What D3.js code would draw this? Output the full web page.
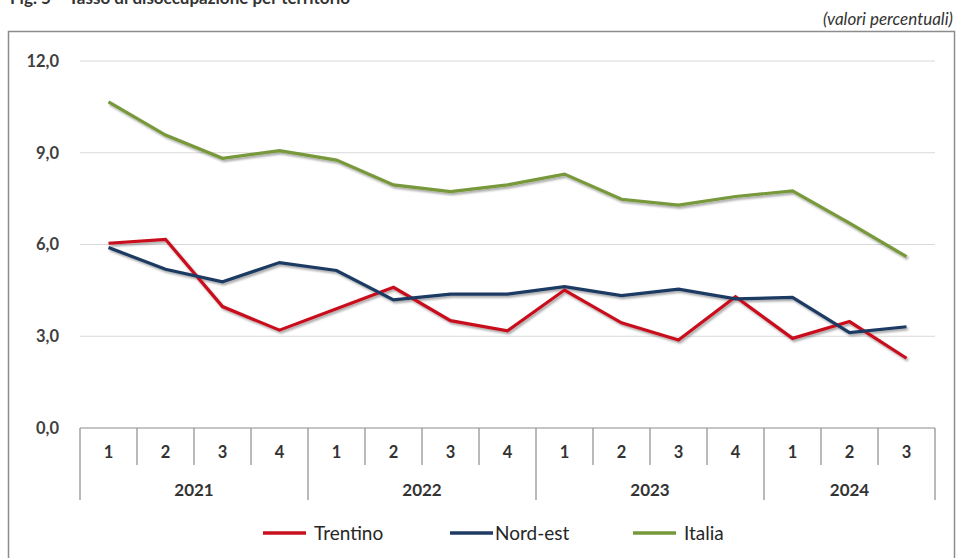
<!DOCTYPE html>
<html>
<head>
<meta charset="utf-8">
<script src="https://cdn.jsdelivr.net/npm/d3@7"></script>
<style>
  body { margin: 0; background: #fff; }
  svg { display: block; font-family: Lato, "Open Sans", sans-serif; }
</style>
</head>
<body>
<svg id="chart"></svg>
<script>
// Data
const quarters = ['1', '2', '3', '4', '1', '2', '3', '4', '1', '2', '3', '4', '1', '2', '3'];
const years = [
  { label: '2021', n: 4 },
  { label: '2022', n: 4 },
  { label: '2023', n: 4 },
  { label: '2024', n: 3 }
];
const trentino = [6.04, 6.17, 3.97, 3.2, 3.9, 4.6, 3.51, 3.18, 4.51, 3.44, 2.88, 4.29, 2.93, 3.48, 2.28];
const nordEst = [5.9, 5.19, 4.78, 5.41, 5.15, 4.19, 4.38, 4.38, 4.62, 4.33, 4.54, 4.22, 4.27, 3.12, 3.31];
const italia = [10.66, 9.58, 8.82, 9.07, 8.76, 7.95, 7.73, 7.95, 8.3, 7.48, 7.29, 7.57, 7.75, 6.7, 5.6];
const yTicks = [0, 3, 6, 9, 12];

const series = [
  { name: 'Trentino', values: trentino, color: '#c8101e' },
  { name: 'Nord-est', values: nordEst, color: '#1f3a63' },
  { name: 'Italia', values: italia, color: '#77983a' }
];

const width = 959, height = 558;
const margin = { top: 61, right: 24, bottom: 130, left: 80 };
const innerW = width - margin.left - margin.right;
const innerH = height - margin.top - margin.bottom;

const svg = d3.select('#chart').attr('width', width).attr('height', height);

// drop shadow like the Excel original
const defs = svg.append('defs');
defs.append('filter').attr('id', 'shadow')
  .attr('x', '-5%').attr('y', '-20%').attr('width', '110%').attr('height', '140%')
  .append('feDropShadow')
  .attr('dx', 1.5).attr('dy', 2).attr('stdDeviation', 1)
  .attr('flood-color', '#000').attr('flood-opacity', 0.35);

// title (cut off at the top of the crop, as in the source)
svg.append('text')
  .attr('x', 10).attr('y', 4)
  .attr('fill', '#333').attr('font-size', '17px').attr('font-weight', 'bold')
  .text('Fig. 5 \u2013 Tasso di disoccupazione per territorio');

svg.append('text')
  .attr('x', 953).attr('y', 25)
  .attr('text-anchor', 'end')
  .attr('fill', '#333').attr('font-size', '17px').attr('font-style', 'italic')
  .text('(valori percentuali)');

// outer frame
svg.append('rect')
  .attr('x', 8.5).attr('y', 31.5).attr('width', 946).attr('height', 540)
  .attr('fill', 'none').attr('stroke', '#8c8c8c').attr('stroke-width', 1.5);

const g = svg.append('g').attr('transform', `translate(${margin.left},${margin.top})`);

const x = d3.scaleBand().domain(d3.range(quarters.length)).range([0, innerW]);
const y = d3.scaleLinear().domain([0, 12]).range([innerH, 0]);

// gridlines
g.append('g').selectAll('line')
  .data(yTicks.filter(d => d > 0))
  .join('line')
  .attr('x1', 0).attr('x2', innerW)
  .attr('y1', d => y(d)).attr('y2', d => y(d))
  .attr('stroke', '#d9d9d9').attr('stroke-width', 1.2);

// y axis labels
const yAxis = g.append('g')
  .call(d3.axisLeft(y).tickValues(yTicks).tickSize(0).tickPadding(21)
    .tickFormat(d => d3.format('.1f')(d).replace('.', ',')));
yAxis.select('.domain').remove();
yAxis.selectAll('text')
  .attr('fill', '#3f3f3f').attr('font-size', '16.5px').attr('font-weight', 'bold')
  .attr('font-family', 'Lato, "Open Sans", sans-serif');

// x axis: quarters and years table
const xg = g.append('g').attr('transform', `translate(0,${innerH})`);
const qH = 37, yH = 72;
xg.append('line').attr('x1', 0).attr('x2', innerW).attr('y1', 0).attr('y2', 0)
  .attr('stroke', '#8c8c8c').attr('stroke-width', 1.2);

let start = 0;
const yearStarts = years.map(d => { const s = start; start += d.n; return s; });
const yearBounds = new Set(yearStarts.concat([quarters.length]));

xg.selectAll('.qsep')
  .data(d3.range(quarters.length + 1))
  .join('line')
  .attr('class', 'qsep')
  .attr('x1', i => i * x.step()).attr('x2', i => i * x.step())
  .attr('y1', 0).attr('y2', i => yearBounds.has(i) ? yH : qH)
  .attr('stroke', '#8c8c8c').attr('stroke-width', 1.2);

xg.selectAll('.qlab')
  .data(quarters)
  .join('text')
  .attr('class', 'qlab')
  .attr('x', (d, i) => x(i) + x.bandwidth() / 2)
  .attr('y', 30)
  .attr('text-anchor', 'middle')
  .attr('fill', '#333').attr('font-size', '16.5px').attr('font-weight', 'bold')
  .text(d => d);

xg.selectAll('.ylab')
  .data(years)
  .join('text')
  .attr('class', 'ylab')
  .attr('x', (d, i) => (yearStarts[i] + d.n / 2) * x.step())
  .attr('y', 68)
  .attr('text-anchor', 'middle')
  .attr('fill', '#333').attr('font-size', '17px').attr('font-weight', 'bold')
  .text(d => d.label);

// lines
const line = d3.line()
  .x((d, i) => x(i) + x.bandwidth() / 2)
  .y(d => y(d));

g.append('g').attr('filter', 'url(#shadow)').selectAll('path')
  .data(series)
  .join('path')
  .attr('d', d => line(d.values))
  .attr('fill', 'none')
  .attr('stroke', d => d.color)
  .attr('stroke-width', 3.2)
  .attr('stroke-linejoin', 'miter');

// legend
const legendX = [263, 450, 633];
const lg = svg.append('g').attr('transform', 'translate(0,533)');
const items = lg.selectAll('g').data(series).join('g')
  .attr('transform', (d, i) => `translate(${legendX[i]},0)`);
items.append('line')
  .attr('x1', 0).attr('x2', 43).attr('y1', 0).attr('y2', 0)
  .attr('stroke', d => d.color).attr('stroke-width', 3.5);
items.append('text')
  .attr('x', (d, i) => i === 1 ? 45 : 51)
  .attr('y', 7)
  .attr('fill', '#262626').attr('font-size', '19px')
  .text(d => d.name);
</script>
</body>
</html>
